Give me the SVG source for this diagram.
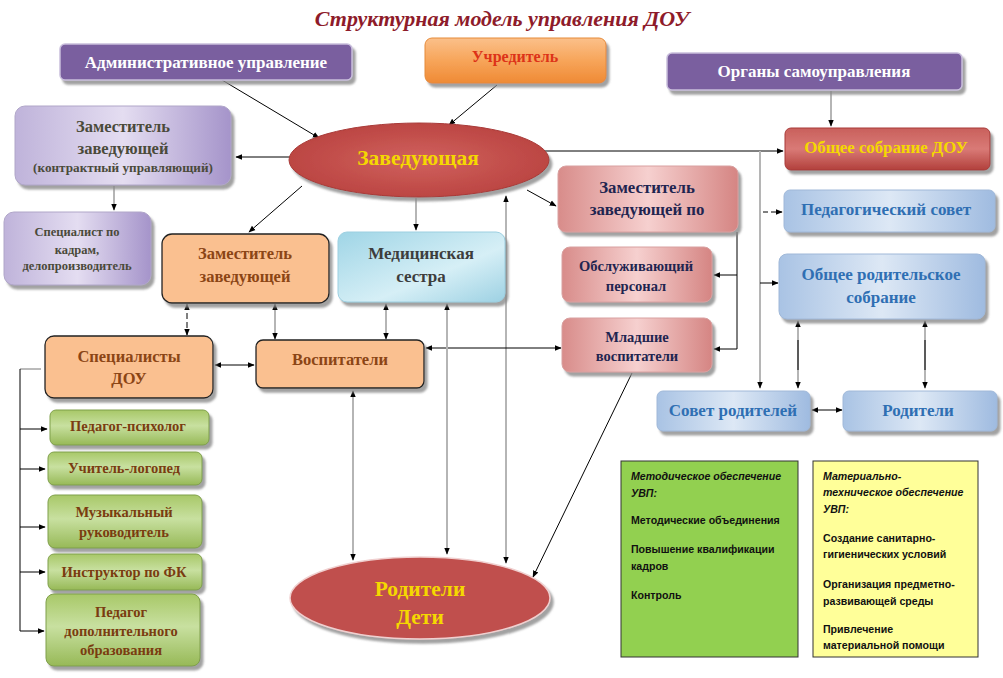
<svg xmlns="http://www.w3.org/2000/svg" width="1003" height="678" viewBox="0 0 1003 678">
<defs>
<filter id="sh" x="-10%" y="-10%" width="125%" height="135%"><feDropShadow dx="3" dy="4" stdDeviation="1" flood-color="#8a8a8a" flood-opacity="0.8"/></filter>
<linearGradient id="gOr" x1="0" y1="0" x2="0" y2="1"><stop offset="0" stop-color="#fbc08a"/><stop offset="0.5" stop-color="#f7a55a"/><stop offset="1" stop-color="#ef8a35"/></linearGradient>
<linearGradient id="gLav" x1="0" y1="0" x2="1" y2="0"><stop offset="0" stop-color="#bfb3da"/><stop offset="0.5" stop-color="#e4ddf1"/><stop offset="1" stop-color="#a594ca"/></linearGradient>
<radialGradient id="gRed" cx="0.5" cy="0.5" r="0.6"><stop offset="0" stop-color="#d0625e"/><stop offset="1" stop-color="#b8403d"/></radialGradient>
<linearGradient id="gRedBox" x1="0" y1="0" x2="0" y2="1"><stop offset="0" stop-color="#c9605c"/><stop offset="0.5" stop-color="#d97a76"/><stop offset="1" stop-color="#b2403c"/></linearGradient>
<linearGradient id="gPink" x1="0" y1="0" x2="1" y2="0"><stop offset="0" stop-color="#d88c8a"/><stop offset="0.5" stop-color="#f6d0cf"/><stop offset="1" stop-color="#d58583"/></linearGradient>
<linearGradient id="gBlue" x1="0" y1="0" x2="1" y2="0"><stop offset="0" stop-color="#a9c3e4"/><stop offset="0.5" stop-color="#dde8f5"/><stop offset="1" stop-color="#9fbbe0"/></linearGradient>
<linearGradient id="gCyan" x1="0" y1="0" x2="1" y2="1"><stop offset="0" stop-color="#9fd5e6"/><stop offset="0.6" stop-color="#d6eff6"/><stop offset="1" stop-color="#9dd1e3"/></linearGradient>
<linearGradient id="gGreen" x1="0" y1="0" x2="0" y2="1"><stop offset="0" stop-color="#a8c868"/><stop offset="0.45" stop-color="#c8e0a0"/><stop offset="1" stop-color="#97b957"/></linearGradient>
<marker id="a" viewBox="0 0 10 10" refX="9" refY="5" markerWidth="7" markerHeight="7" orient="auto-start-reverse" markerUnits="userSpaceOnUse"><path d="M0,1 L10,5 L0,9 z" fill="#000"/></marker>
<style>
text{font-family:"Liberation Serif","Times New Roman",serif;font-weight:bold;text-anchor:middle}
.t{font-size:22px;font-style:italic;fill:#8e1b2a}
.pur{fill:#7a5e9f;stroke:#c9bfdc;stroke-width:1.5}
.wt{fill:#fff;font-size:17px}
.lav{fill:url(#gLav);stroke:#b0a6c8}
.lt{fill:#4a4a3a}
.org{fill:#fac090;stroke:#222;stroke-width:1.3}
.ot{fill:#8b4515;font-size:16.5px}
.pink{fill:url(#gPink);stroke:#d8a0a0}
.pt{fill:#1f2550}
.blue{fill:url(#gBlue);stroke:#a0b8d8}
.bt{fill:#2f6fb3;font-size:17px}
.grn{fill:url(#gGreen);stroke:#7f9f4a}
.gt{fill:#7a3c10;font-size:14.5px}
.yt{fill:#f5d800;font-size:21.5px}
.info{font-family:"Liberation Sans",Arial,sans-serif;font-size:10.6px;text-anchor:start;fill:#111}
.it{font-style:italic}
.c{fill:none;stroke:#000;stroke-width:1}
.g{fill:none;stroke:#b5b5b5;stroke-width:2}
</style>
</defs>

<text class="t" x="502" y="26">Структурная модель управления ДОУ</text>

<g id="connectors">
<line class="c" x1="222" y1="80" x2="319" y2="138" marker-end="url(#a)"/>
<line class="c" x1="497" y1="85" x2="449" y2="125" marker-end="url(#a)"/>
<line class="c" x1="290" y1="157" x2="236" y2="157" marker-end="url(#a)"/>
<line class="g" x1="114" y1="186" x2="114" y2="210" marker-end="url(#a)"/>
<line class="c" x1="302" y1="186" x2="249" y2="232" marker-end="url(#a)"/>
<line class="g" x1="416" y1="198" x2="416" y2="230" marker-end="url(#a)"/>
<line class="c" x1="527" y1="190" x2="556" y2="206" marker-end="url(#a)"/>
<line class="g" x1="506" y1="196" x2="506" y2="563" marker-start="url(#a)" marker-end="url(#a)"/>
<line class="c" x1="545" y1="151" x2="783" y2="151" marker-end="url(#a)"/>
<line class="g" x1="760" y1="151" x2="760" y2="388" marker-end="url(#a)"/>
<line class="c" x1="763" y1="212" x2="782" y2="212" stroke-dasharray="5,3" marker-end="url(#a)"/>
<line class="c" x1="760" y1="283" x2="778" y2="283" marker-end="url(#a)"/>
<line class="g" x1="831" y1="91" x2="831" y2="126" marker-end="url(#a)"/>
<polyline class="c" points="737,232 737,349"/>
<line class="c" x1="737" y1="275" x2="714" y2="275" marker-end="url(#a)"/>
<line class="c" x1="737" y1="349" x2="714" y2="349" marker-end="url(#a)"/>
<line class="c" x1="426" y1="348" x2="561" y2="348" marker-start="url(#a)" marker-end="url(#a)"/>
<line class="c" x1="632" y1="373" x2="533" y2="577" marker-end="url(#a)"/>
<line class="g" x1="353" y1="391" x2="353" y2="560" marker-start="url(#a)" marker-end="url(#a)"/>
<line class="g" x1="447" y1="304" x2="447" y2="554" marker-start="url(#a)" marker-end="url(#a)"/>
<line class="g" x1="386" y1="304" x2="386" y2="339" marker-start="url(#a)" marker-end="url(#a)"/>
<line class="c" x1="187" y1="304" x2="187" y2="335" stroke-dasharray="6,3" marker-start="url(#a)" marker-end="url(#a)"/>
<line class="g" x1="275" y1="304" x2="275" y2="339" marker-start="url(#a)" marker-end="url(#a)"/>
<line class="c" x1="215" y1="365" x2="254" y2="365" marker-start="url(#a)" marker-end="url(#a)"/>
<polyline fill="none" stroke="#777" stroke-width="1" points="41,369 20,369"/>
<line class="c" x1="20" y1="369" x2="20" y2="631"/>
<line class="c" x1="20" y1="429" x2="47" y2="429" marker-end="url(#a)"/>
<line class="c" x1="20" y1="469" x2="45" y2="469" marker-end="url(#a)"/>
<line class="c" x1="20" y1="527" x2="45" y2="527" marker-end="url(#a)"/>
<line class="c" x1="20" y1="572" x2="45" y2="572" marker-end="url(#a)"/>
<line class="c" x1="20" y1="631" x2="44" y2="631" stroke-width="1.5" marker-end="url(#a)"/>
<line class="g" x1="798" y1="321" x2="798" y2="388" marker-start="url(#a)" marker-end="url(#a)"/>
<line class="c" x1="798" y1="340" x2="798" y2="370" stroke-width="1.5"/>
<line class="g" x1="925" y1="321" x2="925" y2="388" marker-start="url(#a)" marker-end="url(#a)"/>
<line class="c" x1="925" y1="340" x2="925" y2="370" stroke-width="1.5"/>
<line class="c" x1="812" y1="410" x2="842" y2="410" marker-start="url(#a)" marker-end="url(#a)"/>
</g>

<g id="n-admin"><rect class="pur" x="60" y="44" width="292" height="36" rx="5" filter="url(#sh)"/><text class="wt" x="206" y="68">Административное управление</text></g>
<g id="n-uchr"><rect x="425" y="38" width="181" height="45" rx="7" fill="url(#gOr)" stroke="#e58a3a" filter="url(#sh)"/><text x="515" y="62" font-size="16" fill="#dd3318">Учредитель</text></g>
<g id="n-organy"><rect class="pur" x="667" y="53" width="295" height="37" rx="5" filter="url(#sh)"/><text class="wt" x="814" y="77">Органы самоуправления</text></g>
<g id="n-zamk"><rect class="lav" x="15" y="106" width="216" height="79" rx="10" filter="url(#sh)"/><text class="lt" x="123" y="132" font-size="16.5">Заместитель</text><text class="lt" x="123" y="154" font-size="16.5">заведующей</text><text class="lt" x="123" y="172" font-size="13.2">(контрактный управляющий)</text></g>
<g id="n-zav"><ellipse cx="419" cy="160" rx="130" ry="37" fill="url(#gRed)" stroke="#a83a38" filter="url(#sh)"/><text class="yt" x="418" y="165" font-size="22">Заведующая</text></g>
<g id="n-obsch"><rect x="785" y="128" width="205" height="42" rx="6" fill="url(#gRedBox)" stroke="#a83a38" filter="url(#sh)"/><text x="886" y="153" font-size="16.8" fill="#f5d800">Общее собрание ДОУ</text></g>
<g id="n-zampo"><rect class="pink" x="558" y="166" width="180" height="66" rx="8" filter="url(#sh)"/><text class="pt" x="647" y="193" font-size="16.8">Заместитель</text><text class="pt" x="647" y="215" font-size="16.8">заведующей по</text></g>
<g id="n-pedsov"><rect class="blue" x="784" y="190" width="211" height="42" rx="6" filter="url(#sh)"/><text class="bt" x="886" y="215">Педагогический совет</text></g>
<g id="n-kadry"><rect class="lav" x="4" y="212" width="147" height="73" rx="10" filter="url(#sh)"/><text class="lt" x="77" y="236" font-size="12.5">Специалист по</text><text class="lt" x="77" y="254" font-size="12.5">кадрам,</text><text class="lt" x="77" y="270" font-size="12.5">делопроизводитель</text></g>
<g id="n-zamor"><rect class="org" x="162" y="234" width="167" height="69" rx="10" filter="url(#sh)"/><text class="ot" x="245" y="259">Заместитель</text><text class="ot" x="245" y="282">заведующей</text></g>
<g id="n-med"><rect x="338" y="232" width="167" height="70" rx="9" fill="url(#gCyan)" stroke="#9ccfe0" filter="url(#sh)"/><text x="421" y="259" font-size="17" fill="#3d3d3d">Медицинская</text><text x="421" y="282" font-size="17" fill="#3d3d3d">сестра</text></g>
<g id="n-obsl"><rect class="pink" x="562" y="247" width="150" height="55" rx="8" filter="url(#sh)"/><text class="pt" x="636" y="271" font-size="14.5">Обслуживающий</text><text class="pt" x="636" y="291" font-size="14.5">персонал</text></g>
<g id="n-orsob"><rect class="blue" x="779" y="254" width="206" height="65" rx="8" filter="url(#sh)"/><text class="bt" x="881" y="280">Общее родительское</text><text class="bt" x="881" y="303">собрание</text></g>
<g id="n-spec"><rect class="org" x="45" y="336" width="168" height="62" rx="9" filter="url(#sh)"/><text class="ot" x="129" y="362">Специалисты</text><text class="ot" x="129" y="384">ДОУ</text></g>
<g id="n-vosp"><rect class="org" x="256" y="340" width="168" height="48" rx="7" filter="url(#sh)"/><text class="ot" x="340" y="365">Воспитатели</text></g>
<g id="n-mlad"><rect class="pink" x="562" y="318" width="150" height="54" rx="8" filter="url(#sh)"/><text class="pt" x="637" y="342" font-size="14.5">Младшие</text><text class="pt" x="637" y="361" font-size="14.5">воспитатели</text></g>
<g id="n-sovrod"><rect class="blue" x="657" y="391" width="153" height="40" rx="6" filter="url(#sh)"/><text class="bt" x="733" y="416">Совет родителей</text></g>
<g id="n-rod"><rect class="blue" x="843" y="391" width="154" height="40" rx="6" filter="url(#sh)"/><text class="bt" x="918" y="416">Родители</text></g>
<g id="n-psy"><rect class="grn" x="50" y="410" width="159" height="35" rx="6" filter="url(#sh)"/><text class="gt" x="128" y="431">Педагог-психолог</text></g>
<g id="n-log"><rect class="grn" x="48" y="452" width="154" height="33" rx="6" filter="url(#sh)"/><text class="gt" x="124" y="473">Учитель-логопед</text></g>
<g id="n-muz"><rect class="grn" x="48" y="495" width="154" height="53" rx="7" filter="url(#sh)"/><text class="gt" x="124" y="517">Музыкальный</text><text class="gt" x="124" y="537">руководитель</text></g>
<g id="n-fk"><rect class="grn" x="48" y="554" width="154" height="36" rx="6" filter="url(#sh)"/><text class="gt" x="124" y="577">Инструктор по ФК</text></g>
<g id="n-dop"><rect class="grn" x="46" y="594" width="154" height="72" rx="8" filter="url(#sh)"/><text class="gt" x="121" y="617">Педагог</text><text class="gt" x="121" y="636">дополнительного</text><text class="gt" x="121" y="655">образования</text></g>
<g id="n-roddeti"><ellipse cx="420" cy="598" rx="130" ry="41" fill="#c0504d" stroke="#f0d0d0" stroke-width="1.5" filter="url(#sh)"/><text class="yt" x="420" y="596">Родители</text><text class="yt" x="420" y="624">Дети</text></g>
<g id="n-metod"><rect x="621" y="461" width="177" height="196" fill="#92d050" stroke="#333" stroke-width="1"/>
<text class="info it" x="631" y="480">Методическое обеспечение</text><text class="info it" x="631" y="497">УВП:</text>
<text class="info" x="631" y="524">Методические объединения</text><text class="info" x="631" y="553">Повышение квалификации</text><text class="info" x="631" y="570">кадров</text><text class="info" x="631" y="599">Контроль</text></g>
<g id="n-mat"><rect x="813" y="461" width="165" height="196" fill="#ffff99" stroke="#333" stroke-width="1"/>
<text class="info it" x="823" y="480">Материально-</text><text class="info it" x="823" y="496">техническое обеспечение</text><text class="info it" x="823" y="513">УВП:</text>
<text class="info" x="823" y="542">Создание санитарно-</text><text class="info" x="823" y="558">гигиенических условий</text><text class="info" x="823" y="588">Организация предметно-</text><text class="info" x="823" y="605">развивающей среды</text><text class="info" x="823" y="633">Привлечение</text><text class="info" x="823" y="649">материальной помощи</text></g>
</svg>
